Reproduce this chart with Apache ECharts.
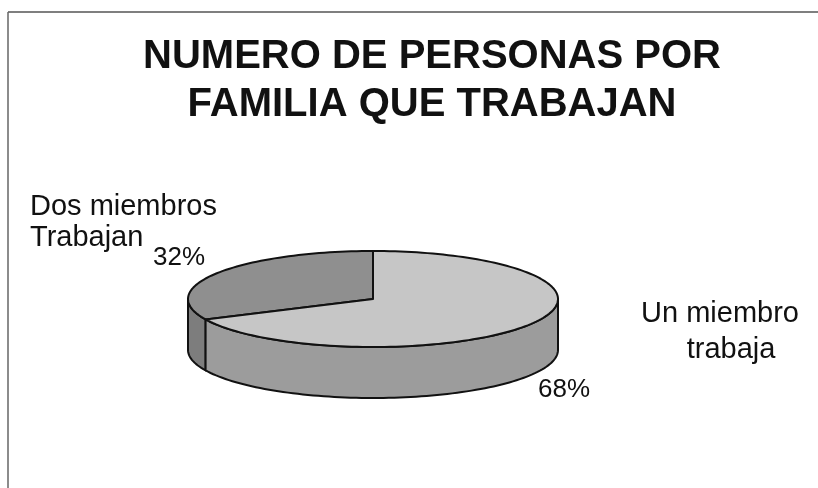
<!DOCTYPE html>
<html>
<head>
<meta charset="utf-8">
<script src="https://cdn.jsdelivr.net/npm/echarts@6/dist/echarts.min.js"></script>
<style>
  html, body { margin: 0; padding: 0; background: #fff; }
  #main { width: 818px; height: 488px; }
</style>
</head>
<body>
<div id="main"></div>
<script>
// datos de la gráfica
var categorias = ['Dos miembros\nTrabajan', 'Un miembro\ntrabaja'];
var valores = [32, 68];
var titulo = ['NUMERO DE PERSONAS POR', 'FAMILIA QUE TRABAJAN'];

// colores del pastel 3D (tapa y lateral)
var colorTapa = ['#8f8f8f', '#c6c6c6'];
var colorLado = ['#7d7d7d', '#9c9c9c'];

var cx = 373, cy = 299, rx = 185, ry = 48, alto = 51;
var total = valores.reduce(function (a, b) { return a + b; }, 0);

function punto (a, dy) {
  return [cx + rx * Math.cos(a), cy - ry * Math.sin(a) + (dy || 0)];
}

function arco (a0, a1, dy) {
  var pts = [];
  var n = Math.max(2, Math.ceil(Math.abs(a1 - a0) / 0.03));
  for (var i = 0; i <= n; i++) {
    pts.push(punto(a0 + (a1 - a0) * i / n, dy));
  }
  return pts;
}

function renderItem (params, api) {
  var idx = params.dataIndex;
  var antes = 0;
  for (var i = 0; i < idx; i++) antes += valores[i];
  // empieza a las 12 y gira en sentido antihorario
  var a0 = Math.PI / 2 + antes / total * Math.PI * 2;
  var a1 = Math.PI / 2 + (antes + api.value(0)) / total * Math.PI * 2;
  var hijos = [];
  // lateral visible: parte frontal (entre 180 y 360 grados)
  var s = Math.max(a0, Math.PI), e = Math.min(a1, Math.PI * 2);
  if (e > s) {
    var lado = arco(s, e, 0).concat(arco(e, s, alto));
    hijos.push({
      type: 'polygon',
      shape: { points: lado },
      style: { fill: colorLado[idx], stroke: '#111', lineWidth: 2, lineJoin: 'round' }
    });
  }
  var tapa = [[cx, cy]].concat(arco(a0, a1, 0));
  hijos.push({
    type: 'polygon',
    shape: { points: tapa },
    style: { fill: colorTapa[idx], stroke: '#111', lineWidth: 2, lineJoin: 'round' }
  });
  return { type: 'group', children: hijos };
}

var fuente = 'Arial, "Liberation Sans", sans-serif';
var nombres0 = categorias[0].split('\n');
var nombres1 = categorias[1].split('\n');

var myChart = echarts.init(document.getElementById('main'));
myChart.setOption({
  backgroundColor: '#fff',
  animation: false,
  graphic: [
    { type: 'line', shape: { x1: 8, y1: 12, x2: 818, y2: 12 }, style: { stroke: '#555', lineWidth: 1.5 } },
    { type: 'line', shape: { x1: 8, y1: 12, x2: 8, y2: 488 }, style: { stroke: '#666', lineWidth: 1.5 } },
    { type: 'text', x: 432, y: 57, style: { text: titulo[0], font: 'bold 40px ' + fuente, fill: '#111', align: 'center', verticalAlign: 'middle' } },
    { type: 'text', x: 432, y: 105, style: { text: titulo[1], font: 'bold 40px ' + fuente, fill: '#111', align: 'center', verticalAlign: 'middle' } },
    { type: 'text', x: 30, y: 207, style: { text: nombres0[0], font: '29px ' + fuente, fill: '#111', align: 'left', verticalAlign: 'middle' } },
    { type: 'text', x: 30, y: 238, style: { text: nombres0[1], font: '29px ' + fuente, fill: '#111', align: 'left', verticalAlign: 'middle' } },
    { type: 'text', x: 153, y: 258, style: { text: valores[0] + '%', font: '26px ' + fuente, fill: '#111', align: 'left', verticalAlign: 'middle' } },
    { type: 'text', x: 720, y: 314, style: { text: nombres1[0], font: '29px ' + fuente, fill: '#111', align: 'center', verticalAlign: 'middle' } },
    { type: 'text', x: 731, y: 350, style: { text: nombres1[1], font: '29px ' + fuente, fill: '#111', align: 'center', verticalAlign: 'middle' } },
    { type: 'text', x: 538, y: 390, style: { text: valores[1] + '%', font: '26px ' + fuente, fill: '#111', align: 'left', verticalAlign: 'middle' } }
  ],
  series: [
    {
      type: 'custom',
      coordinateSystem: 'none',
      renderItem: renderItem,
      data: valores.map(function (v, i) { return { name: categorias[i], value: [v] }; })
    }
  ]
});
</script>
</body>
</html>
